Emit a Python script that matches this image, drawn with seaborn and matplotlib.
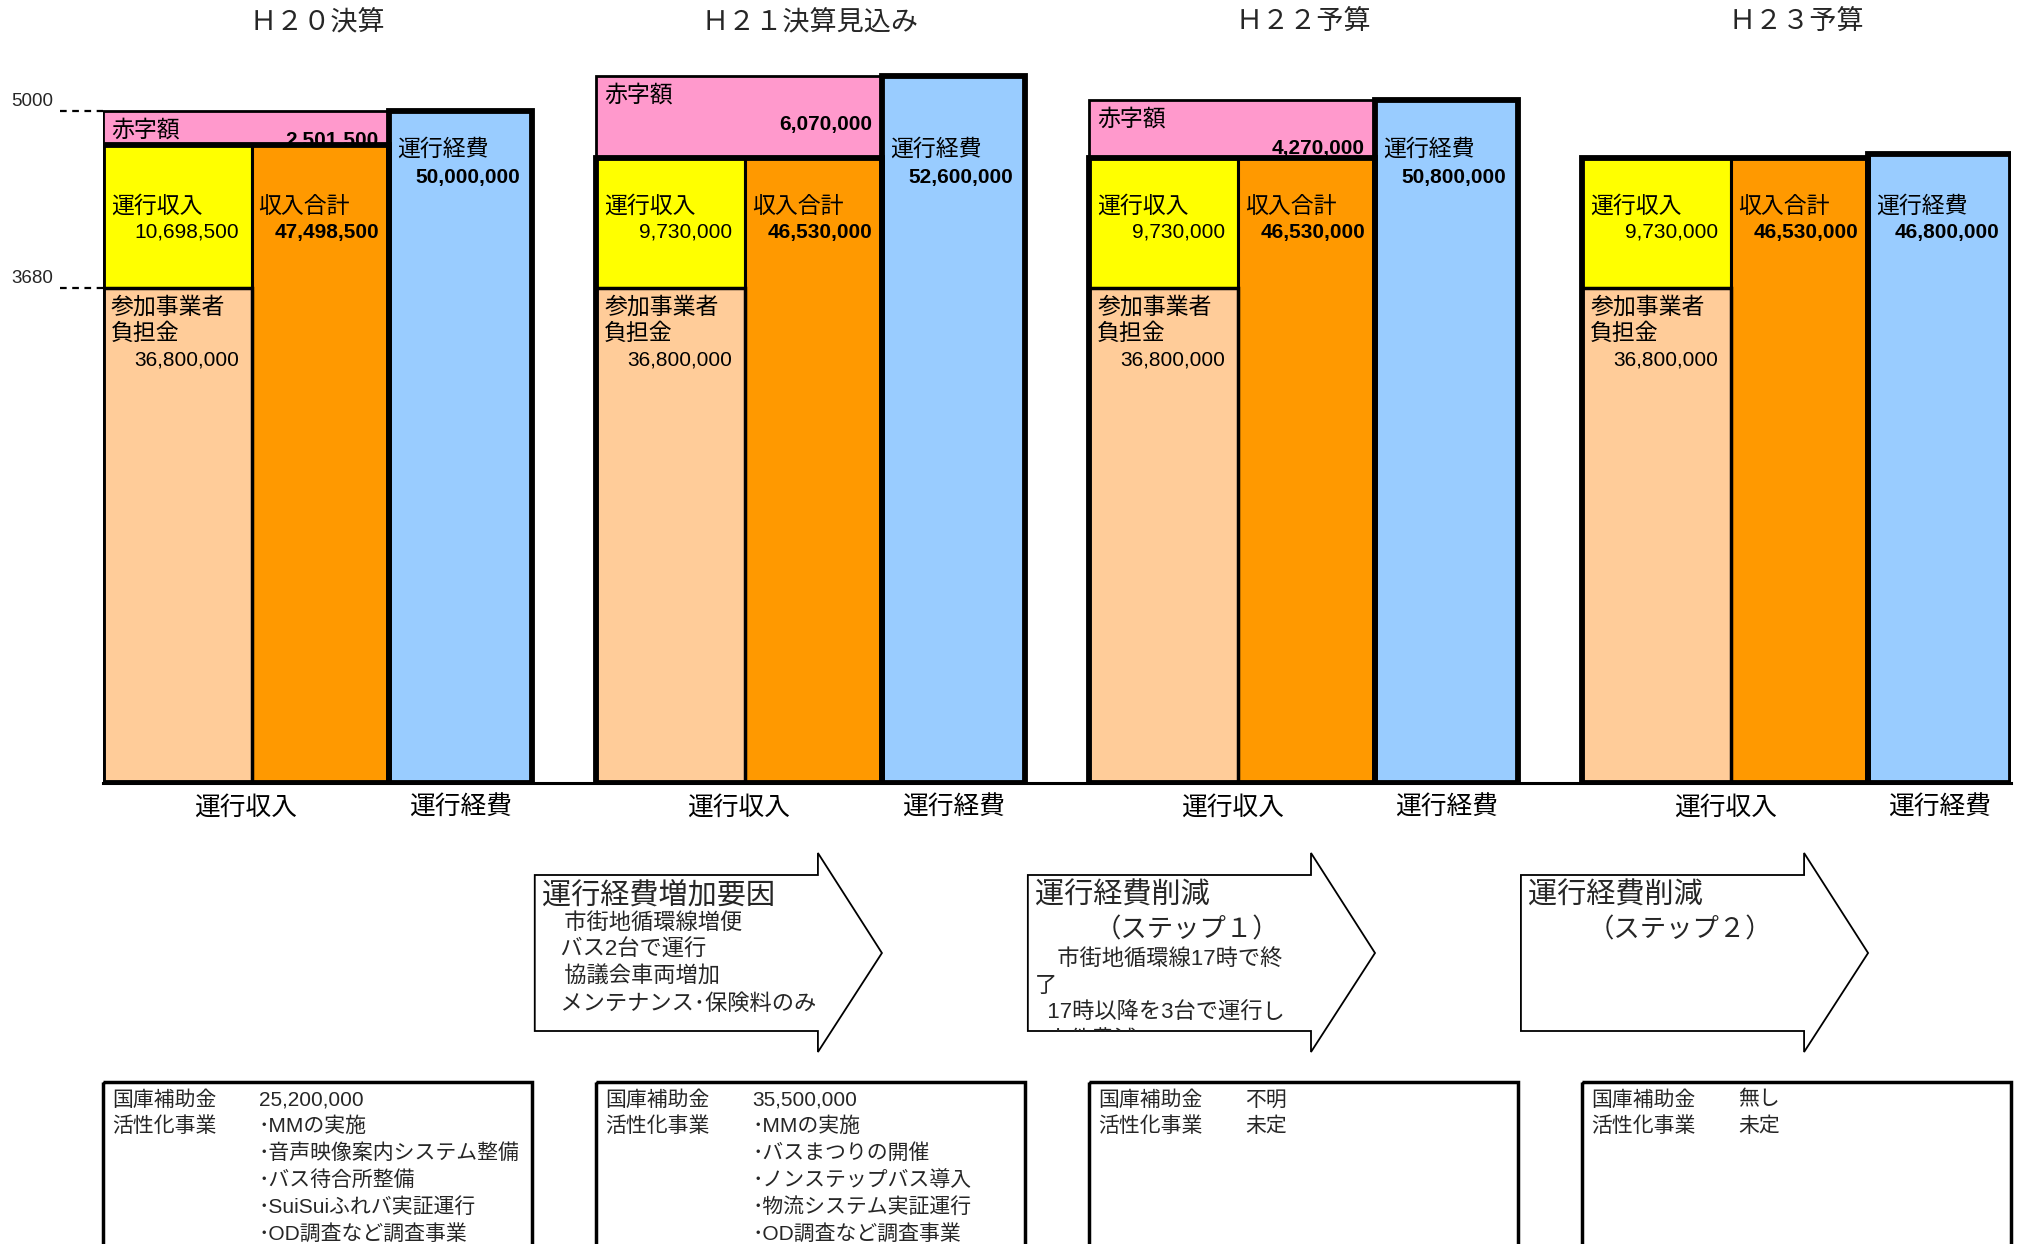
import numpy as np
import pandas as pd
import seaborn as sns
import matplotlib.pyplot as plt
from matplotlib.patches import Polygon, Rectangle
from matplotlib.transforms import Bbox

sns.set_theme(style='white')
plt.rcParams['font.family'] = ['Liberation Sans', 'Noto Sans CJK JP', 'DejaVu Sans']

# 収支 (円)
years = ['Ｈ２０決算', 'Ｈ２１決算見込み', 'Ｈ２２予算', 'Ｈ２３予算']
burden = [36800000, 36800000, 36800000, 36800000]   # 参加事業者負担金
fare = [10698500, 9730000, 9730000, 9730000]        # 運行収入
income = [47498500, 46530000, 46530000, 46530000]   # 収入合計
cost = [50000000, 52600000, 50800000, 46800000]     # 運行経費
deficit = [2501500, 6070000, 4270000, None]         # 赤字額 (H23は表示なし)
ytick_vals = [5000, 3680]
col_labels = ['運行収入', '運行経費']

arrow_heads = [None, '運行経費増加要因', '運行経費削減', '運行経費削減']
arrow_steps = [None, None, '（ステップ１）', '（ステップ２）']
arrow_lines = [[],
               ['　市街地循環線増便', '   バス2台で運行', '　協議会車両増加', '   メンテナンス･保険料のみ'],
               ['　市街地循環線17時で終', '了', '  17時以降を3台で運行し', '  人件費減'],
               []]

subsidy = ['25,200,000', '35,500,000', '不明', '無し']
projects = [['･MMの実施', '･音声映像案内システム整備', '･バス待合所整備', '･SuiSuiふれバ実証運行', '･OD調査など調査事業'],
            ['･MMの実施', '･バスまつりの開催', '･ノンステップバス導入', '･物流システム実証運行', '･OD調査など調査事業'],
            ['未定'],
            ['未定']]

# colours
PINK, YELLOW, ORANGE, BLUE, PEACH = '#FF99CC', '#FFFF00', '#FF9900', '#99CCFF', '#FFCC99'

# layout (pixels)
W, H = 2020, 1244
AX_L, AX_R, AX_B = 103, 2011, 783
STEP = 3.45                  # group period in column widths
XMAX = 3 * STEP + 3
YMAX = 5500
AX_H = YMAX * 0.1344
PX = YMAX / AX_H             # data units per pixel
E1, E2 = 1.04, 2.0           # inner column edges within a group

fig = plt.figure(figsize=(W / 100, H / 100), dpi=100)
fig.patch.set_facecolor('white')
ax = fig.add_axes([AX_L / W, (H - AX_B) / H, (AX_R - AX_L) / W, AX_H / H])

man = lambda v: np.array(v, dtype=float) / 1e4
g = np.arange(4)
left = g * STEP


def bars(xs, ys, ncols, **kw):
    sns.barplot(x=list(xs), y=list(ys), native_scale=True, orient='x',
                width=ncols / STEP, saturation=1, errorbar=None, ax=ax, **kw)


# 赤字額 behind the income block
has_def = [i for i in g if deficit[i] is not None]
pink_top = [man(income[i]) + man(deficit[i]) for i in has_def]
bars(left[has_def] + E2 / 2, pink_top, E2, color=PINK, edgecolor='black', linewidth=2.0, zorder=1)

bars(left + E1 / 2, man(income), E1, color=YELLOW, edgecolor='black', linewidth=2.2, zorder=2)
bars(left + E1 / 2, man(burden), E1, color=PEACH, edgecolor='black', linewidth=2.5, zorder=2.1)
bars(left + (E1 + E2) / 2, man(income), E2 - E1, color=ORANGE, edgecolor='black', linewidth=2.2, zorder=2)
bars(left + E2 / 2, man(income), E2, color='black', fill=False, linewidth=4.2, zorder=2.5)
bars(left + (E2 + 3) / 2, man(cost), 3 - E2, color=BLUE, edgecolor='black', linewidth=4.2, zorder=2)

ax.set_xlim(0, XMAX)
ax.set_ylim(0, YMAX)
ax.set_xticks([])
ax.set_yticks([])
ax.set_xlabel('')
ax.set_ylabel('')
sns.despine(ax=ax, left=True)
ax.spines['bottom'].set_color('black')
ax.spines['bottom'].set_linewidth(2.2)


def txt(x, y, s, dx, dy, ha='left', size=16.5, bold=False, z=3):
    ax.annotate(s, xy=(x, y), xytext=(dx, dy), textcoords='offset pixels',
                ha=ha, va='center', fontsize=size, color='black',
                fontweight='bold' if bold else 'normal', zorder=z,
                annotation_clip=False)


for i in g:
    x0 = left[i]
    brd, inc, cst = man(burden[i]), man(income[i]), man(cost[i])
    # 参加事業者負担金
    txt(x0, brd, '参加事業者', 8, -19)
    txt(x0, brd, '負担金', 8, -45)
    txt(x0 + E1, brd, f'{burden[i]:,}', -13, -72, ha='right', size=15)
    # 運行収入
    txt(x0, brd, '運行収入', 8, 82)
    txt(x0 + E1, brd, f'{fare[i]:,}', -13, 56, ha='right', size=15)
    # 収入合計
    txt(x0 + E1, brd, '収入合計', 7, 82)
    txt(x0 + E2, brd, f'{income[i]:,}', -10, 56, ha='right', size=15, bold=True)
    # 運行経費
    if deficit[i] is None:
        top, d1, d2 = brd, 82, 56
    else:
        top, d1, d2 = min(cst, ytick_vals[0]), -38, -67
    txt(x0 + E2, top, '運行経費', 8, d1)
    txt(x0 + 3, top, f'{cost[i]:,}', -12, d2, ha='right', size=15, bold=True)
    # 赤字額
    if deficit[i] is not None:
        ptop = inc + man(deficit[i])
        lab_y = max(ptop - 19 * PX, inc + 2 * PX)
        txt(x0, lab_y, '赤字額', 8, 0, z=1.5)
        vy = max(ptop - 48 * PX, inc + 4 * PX)
        txt(x0 + E2, vy, f'{deficit[i]:,}', -10, 0, ha='right', size=15, bold=True, z=1.5)
    # labels under the baseline
    txt(x0 + 1, 0, col_labels[0], 0, -25, ha='center', size=18.5)
    txt(x0 + 2.5, 0, col_labels[1], 0, -25, ha='center', size=18.5)

# y reference marks
for v in ytick_vals:
    ax.plot([-0.0225, 0], [v, v], transform=ax.get_yaxis_transform(), color='black',
            lw=1.6, ls=(0, (3, 2.5)), clip_on=False)
    ax.annotate(str(v), xy=(0, v), xycoords=ax.get_yaxis_transform(), xytext=(-50, 10),
                textcoords='offset pixels', ha='right', va='center', fontsize=13.5)

# overlay in pixel coordinates for titles, arrows and notes
ov = fig.add_axes([0, 0, 1, 1])
ov.set_xlim(0, W)
ov.set_ylim(H, 0)
ov.axis('off')


def xpx(x):
    return AX_L + x / XMAX * (AX_R - AX_L)


for i in g:
    gl, gr = xpx(left[i]), xpx(left[i] + 3)
    ov.text((gl + gr) / 2, 23, years[i], ha='center', va='center', fontsize=19.5)

    # notes box
    ov.add_patch(Rectangle((gl, 1082), gr - gl, 300, fill=False, edgecolor='black', lw=2.5))
    ov.text(gl + 9, 1100, '国庫補助金', va='center', fontsize=15)
    ov.text(gl + 156, 1100, subsidy[i], va='center', fontsize=15)
    ov.text(gl + 9, 1126, '活性化事業', va='center', fontsize=15)
    for k, p in enumerate(projects[i]):
        ov.text(gl + 156, 1126 + k * 27, p, va='center', fontsize=15)

    # arrows
    if arrow_heads[i] is None:
        continue
    L = xpx(left[i - 1] + 3) + 3
    tip = xpx(left[i] + E2)
    R = tip - 64
    ov.add_patch(Polygon([(L, 875), (R, 875), (R, 853), (tip, 953), (R, 1052), (R, 1031), (L, 1031)],
                         closed=True, facecolor='white', edgecolor='black', lw=1.3))
    ov.text(L + 7, 896, arrow_heads[i], va='center', fontsize=21)
    y = 923
    if arrow_steps[i]:
        ov.text(L + 159, 930, arrow_steps[i], ha='center', va='center', fontsize=19)
        y = 959
    clip = Bbox.from_extents(L, H - 1031, R, H - 875)
    for k, s in enumerate(arrow_lines[i]):
        t = ov.text(L + 7, y + k * 27, s, va='center', fontsize=16)
        t.set_clip_box(clip)
        t.set_clip_on(True)

fig.savefig('out.png', dpi=100, facecolor='white')
